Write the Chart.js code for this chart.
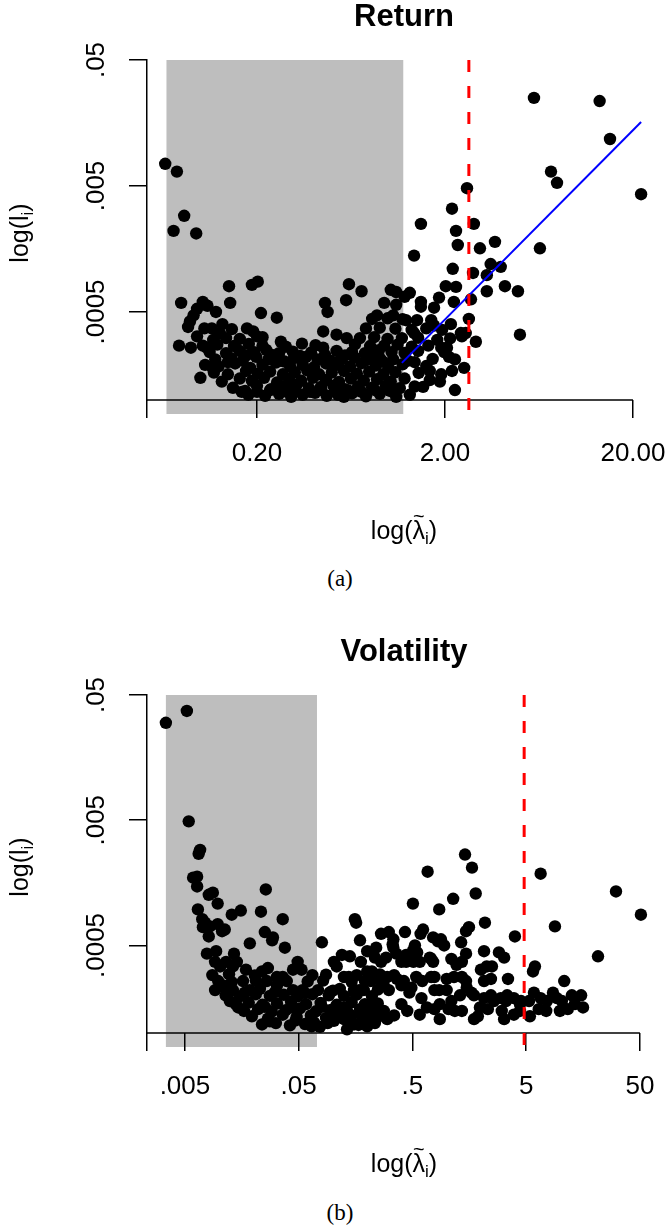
<!DOCTYPE html>
<html>
<head>
<meta charset="utf-8">
<script src="https://cdn.jsdelivr.net/npm/chart.js@4.4.1/dist/chart.umd.min.js"></script>
<style>
  body { margin: 0; background: #fff; overflow: hidden; }
  #page { position: relative; width: 668px; height: 1228px; }
  canvas { position: absolute; left: 0; }
  #chartA { top: 0; }
  #chartB { top: 600px; }
  .cap { position: absolute; left: 12px; width: 656px; text-align: center; line-height: 26px;
         font: 23px "Liberation Serif", "DejaVu Serif", serif; }
</style>
</head>
<body>
<div id="page">
  <canvas id="chartA" width="668" height="560"></canvas>
  <div class="cap" style="top:566px">(a)</div>
  <canvas id="chartB" width="668" height="600"></canvas>
  <div class="cap" style="top:1200px">(b)</div>
</div>
<script>
// y axis is shared by both panels
const impactRange = [0.0001, 0.05];
const impactTicks = [0.0005, 0.005, 0.05];
const impactTickLabels = ['.0005', '.005', '.05'];

// panel (a) Return
const returnRange = [0.052, 28.2];
const returnTicks = [0.052, 0.2, 2, 20];
const returnTickLabels = ['', '0.20', '2.00', '20.00'];
const returnShade = [0.066, 1.2];
const returnCut = 2.68;
const returnFit = [[1.18, 0.000197], [22.1, 0.0161]];
const returnPoints = [
  [0.065, 0.0075], [0.075, 0.0065], [0.082, 0.0029], [0.072, 0.0022], [0.095, 0.0021],
  [0.142, 0.0008], [0.188, 0.00082], [0.202, 0.00087], [0.079, 0.00059], [0.103, 0.0006],
  [0.109, 0.00056], [0.144, 0.00059], [0.21, 0.00049], [0.255, 0.00045], [0.121, 0.0005],
  [0.096, 0.00053], [0.092, 0.00047], [0.088, 0.00042], [0.086, 0.00038], [0.105, 0.00037],
  [0.115, 0.00037], [0.077, 0.00027], [0.089, 0.00026], [0.096, 0.00032], [0.108, 0.00026],
  [0.117, 0.0003], [0.127, 0.00034], [0.131, 0.0004], [0.177, 0.00037], [0.191, 0.00035],
  [0.2, 0.00032], [0.268, 0.00029], [0.347, 0.00028], [0.45, 0.00035], [0.46, 0.00059],
  [0.475, 0.0005], [0.45, 0.00026], [0.1, 0.00015], [0.116, 0.00018], [0.166, 0.000116],
  [5.95, 0.025], [13.3, 0.0236], [15.1, 0.0118], [7.33, 0.0065], [7.89, 0.0053],
  [22.1, 0.0043], [2.62, 0.0048], [2.18, 0.0033], [1.49, 0.0025], [2.85, 0.0025],
  [2.29, 0.0022], [2.34, 0.0017], [3.07, 0.0016], [3.69, 0.0018], [1.37, 0.0014],
  [6.4, 0.0016], [2.2, 0.0011], [3.5, 0.0012], [3.96, 0.00114], [3.34, 0.00098],
  [2.82, 0.00102], [2.02, 0.0008], [2.29, 0.00079], [4.17, 0.0008], [4.89, 0.00073],
  [3.34, 0.00073], [0.617, 0.00083], [0.72, 0.00073], [0.596, 0.00062], [1.03, 0.00075],
  [1.1, 0.00072], [1.3, 0.00071], [1.22, 0.00066], [0.95, 0.00059], [1.1, 0.00057],
  [1.49, 0.0006], [1.49, 0.00055], [1.86, 0.00065], [2.23, 0.0006], [1.75, 0.00054],
  [2.75, 0.00063], [0.87, 0.00047], [1.06, 0.00047], [1.24, 0.00043], [1.42, 0.00043],
  [1.69, 0.00043], [1.75, 0.00039], [2.15, 0.0004], [1.93, 0.00036], [2.68, 0.00044],
  [2.43, 0.00034], [2.58, 0.00034], [2.46, 0.00032], [2.92, 0.00029], [5.01, 0.00033],
  [0.53, 0.00033], [0.6, 0.00031], [1.33, 0.00036], [1.37, 0.00034], [1.82, 0.0003],
  [1.91, 0.00026], [2.05, 0.00026], [2.1, 0.00022], [1.98, 0.00024], [2.53, 0.00018],
  [1.53, 0.000127], [1.88, 0.00014], [1.91, 0.00016], [1.1, 0.000106], [0.58, 0.000106],
  [0.18, 0.00011], [0.221, 0.000108], [0.262, 0.000112], [0.304, 0.000106], [0.35, 0.00011],
  [0.407, 0.000114], [0.47, 0.000108], [0.54, 0.00011], [0.64, 0.000113], [0.76, 0.000107],
  [0.9, 0.000112], [1.3, 0.00011],
  [0.173, 0.000118], [0.2, 0.000116], [0.235, 0.00012], [0.28, 0.000117], [0.32, 0.000119],
  [0.383, 0.000116], [0.44, 0.00012], [0.52, 0.000117], [0.61, 0.000119], [0.72, 0.000116],
  [0.848, 0.00012], [1.02, 0.000118],
  [0.149, 0.000125], [0.2, 0.00013], [0.238, 0.000122], [0.282, 0.000128], [0.325, 0.000132],
  [0.378, 0.000124], [0.438, 0.000127], [0.51, 0.00013], [0.588, 0.000122], [0.69, 0.000128],
  [0.82, 0.000125], [0.97, 0.00013], [1.15, 0.000124], [1.38, 0.000128],
  [0.13, 0.00014], [0.162, 0.000148], [0.188, 0.000142], [0.218, 0.00015], [0.256, 0.000138],
  [0.296, 0.000146], [0.344, 0.000142], [0.397, 0.00015], [0.466, 0.000144], [0.546, 0.000139],
  [0.632, 0.000148], [0.74, 0.000142], [0.87, 0.000146], [1.03, 0.00014], [1.22, 0.000148],
  [1.66, 0.000144],
  [0.118, 0.000165], [0.14, 0.00016], [0.175, 0.00017], [0.202, 0.000162], [0.235, 0.000168],
  [0.275, 0.00016], [0.318, 0.000166], [0.37, 0.000172], [0.428, 0.00016], [0.5, 0.000165],
  [0.58, 0.00017], [0.68, 0.000162], [0.79, 0.000168], [0.94, 0.00016], [1.09, 0.000166],
  [1.45, 0.000164], [2.18, 0.00017],
  [0.106, 0.00019], [0.125, 0.000185], [0.153, 0.000195], [0.184, 0.00018], [0.214, 0.00019],
  [0.252, 0.000198], [0.3, 0.000185], [0.35, 0.00019], [0.402, 0.000182], [0.466, 0.000195],
  [0.54, 0.00019], [0.625, 0.000185], [0.72, 0.000196], [0.86, 0.000188], [1.0, 0.00018],
  [1.19, 0.000192], [1.59, 0.000186],
  [0.14, 0.0002], [0.28, 0.000202], [0.51, 0.000198], [0.93, 0.000203], [1.38, 0.0002],
  [0.12, 0.00021], [0.146, 0.000215], [0.168, 0.000205], [0.198, 0.00022], [0.23, 0.00021],
  [0.268, 0.000205], [0.315, 0.000215], [0.365, 0.00022], [0.42, 0.00021], [0.49, 0.000205],
  [0.565, 0.000212], [0.66, 0.000218], [0.77, 0.000208], [0.9, 0.000215], [1.06, 0.00021],
  [1.27, 0.000205], [1.72, 0.000212],
  [0.175, 0.000225], [0.24, 0.000228], [0.339, 0.000224], [0.46, 0.000228], [0.588, 0.000226],
  [0.82, 0.000224],
  [0.112, 0.00024], [0.137, 0.000235], [0.162, 0.000245], [0.193, 0.00024], [0.224, 0.00025],
  [0.262, 0.000235], [0.31, 0.000242], [0.388, 0.000238], [0.53, 0.000245], [0.64, 0.00024],
  [0.751, 0.000235], [0.89, 0.000248], [1.04, 0.00024], [1.22, 0.000236], [1.44, 0.000245],
  [0.103, 0.00027], [0.123, 0.000275], [0.151, 0.000268], [0.181, 0.000278], [0.214, 0.00027],
  [0.285, 0.000265], [0.41, 0.000272], [0.664, 0.000276], [0.8, 0.000268], [0.95, 0.00027],
  [1.12, 0.000275], [1.33, 0.000265], [1.63, 0.00027],
  [0.137, 0.00031], [0.162, 0.000305], [0.214, 0.000315], [0.706, 0.00031], [0.84, 0.000315],
  [0.99, 0.000305], [1.18, 0.00031], [1.44, 0.000312], [2.13, 0.000308],
  [0.147, 0.000365], [0.76, 0.00037], [0.9, 0.000375], [1.09, 0.000368], [1.59, 0.00037],
  [0.82, 0.00044], [0.99, 0.000445], [1.19, 0.000438],
  [2.26, 0.00012], [1.66, 0.00017], [2.26, 0.00021]
];

// panel (b) Volatility
const volRange = [0.00232, 76.6];
const volTicks = [0.00232, 0.005, 0.05, 0.5, 5, 50];
const volTickLabels = ['', '.005', '.05', '.5', '5', '50'];
const volShade = [0.0034, 0.0724];
const volCut = 4.8;
const volPoints = [
  [0.0034, 0.03], [0.0052, 0.0373], [0.0045, 0.067], [0.0054, 0.0049], [0.0068, 0.0029],
  [0.0066, 0.0027], [0.0059, 0.00174], [0.0064, 0.00177], [0.0064, 0.00148], [0.0081, 0.00127],
  [0.0088, 0.00132], [0.0257, 0.0014], [0.0097, 0.00108], [0.0065, 0.00097], [0.0129, 0.00088],
  [0.0155, 0.00095], [0.0233, 0.00093], [0.0362, 0.00081], [0.0071, 0.00081], [0.0075, 0.00076],
  [0.0072, 0.0007], [0.0083, 0.00071], [0.0097, 0.00074], [0.0106, 0.00065], [0.0112, 0.00067],
  [0.0081, 0.00059], [0.0186, 0.00052], [0.0252, 0.00064], [0.0292, 0.00055], [0.0297, 0.00058],
  [0.0378, 0.00048], [0.08, 0.00053], [0.0078, 0.00043], [0.0094, 0.00045], [0.0135, 0.00043],
  [0.0092, 0.00037], [0.0102, 0.00034], [0.0115, 0.00037], [0.0132, 0.00034], [0.0143, 0.00037],
  [0.0172, 0.00032], [0.0238, 0.00031], [0.0268, 0.00033], [0.0322, 0.00028], [0.0362, 0.00028],
  [0.049, 0.00037], [0.0446, 0.00032], [0.053, 0.00032], [0.066, 0.00029], [0.0092, 0.00022],
  [0.0124, 0.00018], [0.0108, 0.00024], [0.0115, 0.00022], [0.0162, 0.00026], [0.0186, 0.00022],
  [0.0262, 0.00026], [0.0322, 0.00024], [0.0393, 0.00026], [0.0446, 0.00022], [0.054, 0.00022],
  [0.065, 0.000113],
  [1.45, 0.00266], [1.67, 0.00209], [0.68, 0.00194], [6.7, 0.00187], [1.8, 0.0013],
  [30.8, 0.00135], [0.505, 0.00108], [0.86, 0.00097], [1.14, 0.00118], [51, 0.00088],
  [0.156, 0.00081], [0.16, 0.00076], [2.17, 0.00076], [8.95, 0.00071], [0.43, 0.00064],
  [0.62, 0.00067], [0.59, 0.00062], [1.57, 0.0007], [1.48, 0.00065], [0.265, 0.00062],
  [0.31, 0.00064], [0.34, 0.00056], [0.76, 0.00058], [0.89, 0.00056], [0.95, 0.0005],
  [0.84, 0.00054], [0.173, 0.00055], [1.34, 0.00053], [3.98, 0.00059], [0.526, 0.0005],
  [0.51, 0.00046], [0.55, 0.00044], [0.24, 0.00048], [0.34, 0.00048], [0.335, 0.00051],
  [0.2, 0.00045], [2.13, 0.00045], [2.88, 0.00044], [3.2, 0.0004], [21.4, 0.00041],
  [0.44, 0.00042], [0.49, 0.0004], [1.48, 0.00043], [0.71, 0.0004], [0.234, 0.0004],
  [0.265, 0.00037], [0.293, 0.0004], [0.176, 0.00037], [0.4, 0.00037], [0.44, 0.00037],
  [0.51, 0.00037], [0.58, 0.00037], [0.73, 0.00039], [0.76, 0.00037], [1.1, 0.00039],
  [1.22, 0.00035], [1.36, 0.00037], [2.0, 0.00032], [2.25, 0.00034], [2.5, 0.00034],
  [5.97, 0.00034], [5.74, 0.00031], [0.102, 0.00037], [0.108, 0.00034], [0.125, 0.00028],
  [0.138, 0.00028], [0.2, 0.00031], [0.22, 0.00031], [0.227, 0.00028], [0.215, 0.00026],
  [0.3, 0.00028], [0.345, 0.00029], [0.365, 0.00027], [0.42, 0.00026], [0.4, 0.00024],
  [0.54, 0.00028], [0.61, 0.00026], [0.73, 0.00028], [0.78, 0.00028], [1.0, 0.00027],
  [1.16, 0.00028], [1.36, 0.00028], [1.48, 0.00026], [2.13, 0.00026], [2.45, 0.00027],
  [3.46, 0.00027], [10.8, 0.00026], [0.153, 0.00022], [0.17, 0.00022], [0.28, 0.00024],
  [0.31, 0.00022], [0.49, 0.00023], [0.47, 0.00021], [0.78, 0.00022], [0.86, 0.00022],
  [1.0, 0.00022], [1.5, 0.00023], [1.65, 0.00021], [1.74, 0.0002], [2.13, 0.00019],
  [2.45, 0.0002], [2.6, 0.00018], [2.99, 0.00019], [3.4, 0.0002], [3.33, 0.00018],
  [3.9, 0.00019], [4.5, 0.00018], [5.3, 0.00018], [5.85, 0.00021], [6.7, 0.00019],
  [6.45, 0.000155], [8.6, 0.00021], [9.3, 0.00019], [10.3, 0.00018], [12.6, 0.0002],
  [15.2, 0.0002], [15.8, 0.00016], [7.5, 0.00015], [3.9, 0.00014], [3.05, 0.00015],
  [3.2, 0.000129], [1.74, 0.000129], [1.88, 0.000136], [1.36, 0.00015], [1.1, 0.00018],
  [1.04, 0.000155], [0.6, 0.00019], [0.67, 0.00016], [0.78, 0.000155], [0.4, 0.00017],
  [0.45, 0.00015], [0.345, 0.000138], [0.28, 0.00015], [0.3, 0.000129], [0.2, 0.000113],
  [0.205, 0.000138], [0.145, 0.000138], [0.153, 0.000117], [0.133, 0.000107], [0.102, 0.00015],
  [0.125, 0.000129],
  [0.0238, 0.000117], [0.0315, 0.00012], [0.0419, 0.000115], [0.0568, 0.000118], [0.0769, 0.000112],
  [0.09, 0.00012], [0.168, 0.000116], [0.234, 0.00012],
  [0.0279, 0.000124], [0.047, 0.000126], [0.068, 0.000122], [0.102, 0.000125], [0.141, 0.000123],
  [0.195, 0.000126],
  [0.0194, 0.000136], [0.0268, 0.00013], [0.0362, 0.00014], [0.048, 0.000134], [0.064, 0.000138],
  [0.087, 0.000132], [0.115, 0.00014], [0.18, 0.000134], [0.259, 0.000137],
  [0.0165, 0.00015], [0.022, 0.000155], [0.029, 0.000148], [0.0385, 0.000152], [0.0513, 0.000157],
  [0.071, 0.000149], [0.096, 0.000153], [0.133, 0.000151], [0.173, 0.000155], [0.227, 0.000148],
  [0.0147, 0.00016], [0.0252, 0.000162], [0.045, 0.000159], [0.08, 0.000162], [0.125, 0.00016],
  [0.211, 0.000161],
  [0.014, 0.00017], [0.0182, 0.000175], [0.024, 0.000168], [0.0322, 0.000172], [0.0428, 0.000178],
  [0.058, 0.00017], [0.078, 0.000174], [0.108, 0.000168], [0.146, 0.000176], [0.191, 0.00017],
  [0.248, 0.000172],
  [0.0114, 0.0002], [0.0152, 0.000196], [0.021, 0.000204], [0.0279, 0.000198], [0.037, 0.000202],
  [0.049, 0.000196], [0.066, 0.000204], [0.092, 0.0002], [0.125, 0.000198], [0.162, 0.000203],
  [0.22, 0.000197],
  [0.0168, 0.00021], [0.0309, 0.000212], [0.0568, 0.000208], [0.094, 0.000211], [0.156, 0.000209],
  [0.0132, 0.00022], [0.0228, 0.000225], [0.074, 0.00022], [0.1, 0.000218], [0.115, 0.000225],
  [0.187, 0.00022], [0.248, 0.000222],
  [0.0098, 0.00026], [0.0129, 0.000255], [0.021, 0.000262], [0.06, 0.000258], [0.082, 0.000262],
  [0.146, 0.000256], [0.191, 0.00026], [0.265, 0.000262],
  [0.0087, 0.00029], [0.0122, 0.000295], [0.0206, 0.000288], [0.087, 0.000292], [0.162, 0.00029],
  [0.259, 0.000294],
  [0.12, 0.00042], [0.141, 0.00041], [0.36, 0.00043],
  [0.58, 0.00014], [0.87, 0.000129], [1.18, 0.00015], [2.3, 0.000155], [4.41, 0.00015],
  [5.39, 0.000136], [9.9, 0.00015], [13.4, 0.00017],
  [0.87, 0.00017], [1.31, 0.0002], [1.96, 0.00016], [4.41, 0.00017], [7.6, 0.00018],
  [11.6, 0.000155]
];

const FONT = '"Liberation Sans", Arial, Helvetica, sans-serif';
Chart.defaults.font.family = FONT;
Chart.defaults.color = '#000';

// text with a sub-script and a tilde accent, drawn centred on (x, y) baseline
function richText(ctx, parts, x, y, angle) {
  ctx.save();
  ctx.translate(x, y);
  ctx.rotate(angle);
  ctx.fillStyle = '#000';
  ctx.textBaseline = 'alphabetic';
  let total = 0;
  parts.forEach(p => { ctx.font = p.size + 'px ' + FONT; p.w = ctx.measureText(p.text).width; total += p.w; });
  let cx = -total / 2;
  parts.forEach(p => {
    ctx.font = p.size + 'px ' + FONT;
    ctx.textAlign = 'left';
    ctx.fillText(p.text, cx, p.dy || 0);
    if (p.tilde) {
      ctx.font = '20px ' + FONT;
      ctx.textAlign = 'center';
      ctx.fillText('~', cx + p.w / 2, -16);
    }
    cx += p.w;
  });
  ctx.restore();
}

const rPlot = {
  id: 'rPlot',
  beforeDraw(chart, args, o) {
    const {ctx, chartArea: a, scales: {x}} = chart;
    ctx.save();
    // grey band runs a bit below the axis, like R's usr box
    const x0 = x.getPixelForValue(o.shade[0]);
    const x1 = x.getPixelForValue(o.shade[1]);
    ctx.fillStyle = '#bebebe';
    ctx.fillRect(x0, a.top, x1 - x0, a.bottom + 14 - a.top);
    // axis line only from first to last tick
    ctx.strokeStyle = '#000';
    ctx.lineWidth = 1.5;
    ctx.beginPath();
    ctx.moveTo(x.getPixelForValue(o.ticks[0]), a.bottom);
    ctx.lineTo(x.getPixelForValue(o.ticks[o.ticks.length - 1]), a.bottom);
    ctx.stroke();
    ctx.restore();
  },
  afterDatasetsDraw(chart, args, o) {
    const {ctx, chartArea: a, scales: {x}} = chart;
    const px = x.getPixelForValue(o.cut);
    ctx.save();
    ctx.strokeStyle = '#ff0000';
    ctx.lineWidth = 3;
    ctx.setLineDash([12, 14]);
    ctx.beginPath();
    ctx.moveTo(px, a.top);
    ctx.lineTo(px, a.bottom + 14);
    ctx.stroke();
    ctx.restore();
  },
  afterDraw(chart, args, o) {
    const {ctx, chartArea: a} = chart;
    const cx = (a.left + a.right) / 2;
    ctx.save();
    ctx.fillStyle = '#000';
    ctx.font = 'bold 31px ' + FONT;
    ctx.textAlign = 'center';
    ctx.textBaseline = 'alphabetic';
    ctx.fillText(o.title, cx, a.top - 34);
    ctx.restore();
    richText(ctx, [
      {text: 'log(', size: 25},
      {text: 'λ', size: 25, tilde: true},
      {text: 'i', size: 17, dy: 5},
      {text: ')', size: 25}
    ], cx, a.bottom + 139, 0);
    richText(ctx, [
      {text: 'log(l', size: 25},
      {text: 'i', size: 17, dy: 5},
      {text: ')', size: 25}
    ], a.left - 119, (a.top + a.bottom) / 2 + 3, -Math.PI / 2);
  }
};

function makePanel(id, p) {
  const tickFont = {family: FONT, size: 26};
  const datasets = [{
    type: 'scatter',
    data: p.points.map(d => ({x: d[0], y: d[1]})),
    pointRadius: 6.2,
    pointBackgroundColor: '#000',
    pointBorderWidth: 0,
    order: 1,
    clip: {left: 8, right: 8, top: 12, bottom: 8}
  }];
  if (p.fit) {
    datasets.push({
      type: 'line',
      data: p.fit.map(d => ({x: d[0], y: d[1]})),
      borderColor: '#0000ff',
      borderWidth: 2,
      pointRadius: 0,
      order: 0,
      clip: false
    });
  }
  return new Chart(document.getElementById(id), {
    type: 'scatter',
    data: {datasets},
    options: {
      responsive: false,
      animation: false,
      events: [],
      layout: {padding: {top: p.top, right: 7, left: 0, bottom: 0}},
      plugins: {
        legend: {display: false},
        tooltip: {enabled: false},
        rPlot: {title: p.title, shade: p.shade, cut: p.cut, ticks: p.ticks}
      },
      scales: {
        x: {
          type: 'logarithmic',
          min: p.range[0],
          max: p.range[1],
          afterBuildTicks: s => { s.ticks = p.ticks.map(v => ({value: v})); },
          afterFit: s => { s.height = s.chart.height - p.bottom; s.paddingLeft = 0; s.paddingRight = 0; },
          ticks: {callback: (v, i) => p.tickLabels[i], font: tickFont, color: '#000',
                  padding: 20, autoSkip: false, maxRotation: 0},
          grid: {drawOnChartArea: false, drawTicks: true, tickLength: 18, color: '#000', lineWidth: 1.5},
          border: {display: false}
        },
        y: {
          type: 'logarithmic',
          min: impactRange[0],
          max: impactRange[1],
          afterBuildTicks: s => { s.ticks = impactTicks.map(v => ({value: v})); },
          afterFit: s => { s.width = 147; s.paddingTop = 0; s.paddingBottom = 0; },
          ticks: {callback: (v, i) => impactTickLabels[i], font: tickFont, color: '#000',
                  padding: 0, autoSkip: false, minRotation: 90, maxRotation: 90, crossAlign: 'center'},
          grid: {drawOnChartArea: false, drawTicks: true, tickLength: 18, color: '#000', lineWidth: 1.5},
          border: {display: true, color: '#000', width: 1.5}
        }
      }
    },
    plugins: [rPlot]
  });
}

makePanel('chartA', {
  title: 'Return', points: returnPoints, fit: returnFit, range: returnRange,
  ticks: returnTicks, tickLabels: returnTickLabels, shade: returnShade, cut: returnCut,
  top: 60, bottom: 400
});
makePanel('chartB', {
  title: 'Volatility', points: volPoints, fit: null, range: volRange,
  ticks: volTicks, tickLabels: volTickLabels, shade: volShade, cut: volCut,
  top: 95, bottom: 433
});
</script>
</body>
</html>
